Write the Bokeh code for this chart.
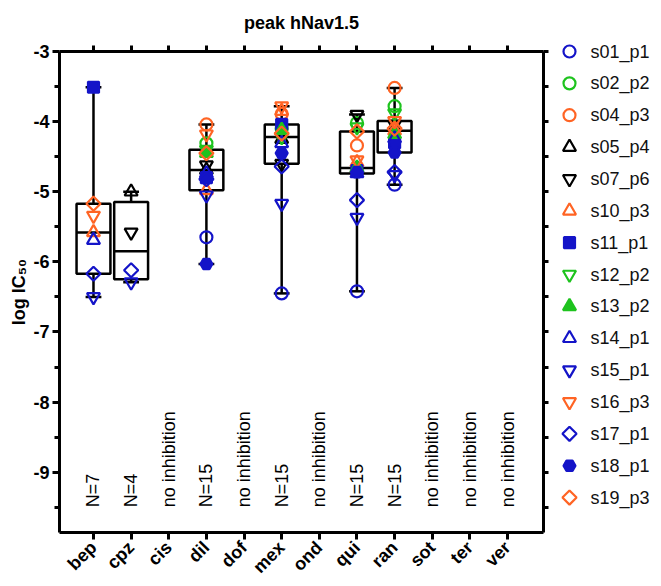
import numpy as np
from math import pi
from bokeh.plotting import figure
from bokeh.layouts import row
from bokeh.models import Range1d, FixedTicker, LinearAxis
from bokeh.core.properties import value
from bokeh.embed import file_html
from bokeh.resources import INLINE

nan = float("nan")

categories = ["bep", "cpz", "cis", "dil", "dof", "mex", "ond", "qui", "ran", "sot", "ter", "ver"]
n_labels = ["N=7", "N=4", "no inhibition", "N=15", "no inhibition", "N=15",
            "no inhibition", "N=15", "N=15", "no inhibition", "no inhibition", "no inhibition"]

#        bep    cpz    cis  dil    dof  mex    ond  qui    ran    sot  ter  ver
s01_p1 = [nan,   nan,   nan, -5.65, nan, -6.45, nan, -6.42, -4.90, nan, nan, nan]
s02_p2 = [nan,   nan,   nan, -4.31, nan, -4.10, nan, -4.02, -3.78, nan, nan, nan]
s04_p3 = [nan,   nan,   nan, -4.04, nan, -3.89, nan, -4.34, -3.52, nan, nan, nan]
s05_p4 = [nan,   -5.00, nan, -4.69, nan, -4.25, nan, -4.67, -4.06, nan, nan, nan]
s07_p6 = [nan,   -5.58, nan, -4.62, nan, -4.60, nan, -3.90, -4.04, nan, nan, nan]
s10_p3 = [-5.58, nan,   nan, -4.98, nan, -3.85, nan, -4.58, -4.13, nan, nan, nan]
s11_p1 = [-3.51, nan,   nan, -4.80, nan, -4.04, nan, -4.70, -4.30, nan, nan, nan]
s12_p2 = [nan,   nan,   nan, -4.40, nan, -4.22, nan, -4.08, -3.88, nan, nan, nan]
s13_p2 = [nan,   nan,   nan, -4.45, nan, -4.12, nan, -4.66, -4.18, nan, nan, nan]
s14_p1 = [-5.69, nan,   nan, -4.74, nan, -4.31, nan, -4.74, -4.24, nan, nan, nan]
s15_p1 = [-6.50, -6.29, nan, -5.05, nan, -5.17, nan, -5.37, -4.76, nan, nan, nan]
s16_p3 = [-5.34, nan,   nan, -4.18, nan, -3.78, nan, -4.55, -3.99, nan, nan, nan]
s17_p1 = [-6.17, -6.12, nan, -4.82, nan, -4.64, nan, -5.12, -4.72, nan, nan, nan]
s18_p1 = [nan,   nan,   nan, -6.03, nan, -4.45, nan, -4.72, -4.44, nan, nan, nan]
s19_p3 = [-5.17, nan,   nan, -4.45, nan, -4.17, nan, -4.14, -4.10, nan, nan, nan]

y_major = [-3, -4, -5, -6, -7, -8, -9]
y_minor = [-3.5, -4.5, -5.5, -6.5, -7.5, -8.5, -9.5]

BLUE = "#1414C8"
GREEN = "#1EC31E"
ORANGE = "#FF6424"
BLACK = "#000000"

# name, values, marker, color, filled, angle
series = [
    ("s01_p1", s01_p1, "circle", BLUE, False, 0),
    ("s02_p2", s02_p2, "circle", GREEN, False, 0),
    ("s04_p3", s04_p3, "circle", ORANGE, False, 0),
    ("s05_p4", s05_p4, "triangle", BLACK, False, 0),
    ("s07_p6", s07_p6, "inverted_triangle", BLACK, False, 0),
    ("s10_p3", s10_p3, "triangle", ORANGE, False, 0),
    ("s11_p1", s11_p1, "square", BLUE, True, 0),
    ("s12_p2", s12_p2, "inverted_triangle", GREEN, False, 0),
    ("s13_p2", s13_p2, "triangle", GREEN, True, 0),
    ("s14_p1", s14_p1, "triangle", BLUE, False, 0),
    ("s15_p1", s15_p1, "inverted_triangle", BLUE, False, 0),
    ("s16_p3", s16_p3, "inverted_triangle", ORANGE, False, 0),
    ("s17_p1", s17_p1, "square", BLUE, False, pi / 4),
    ("s18_p1", s18_p1, "hex", BLUE, True, 0),
    ("s19_p3", s19_p3, "square", ORANGE, False, pi / 4),
]

FONT = "Liberation Sans"
xpos = list(range(1, len(categories) + 1))
TOP, FH, BOTTOM = 51, 481, 52


def marker_size(marker, ang):
    if marker in ("triangle", "inverted_triangle"):
        return 13
    if marker == "square":
        return 10 if ang else 11
    return 12


p = figure(frame_width=484, frame_height=FH,
           x_range=Range1d(0.097, 12.956), y_range=Range1d(-9.86, -3.0),
           output_backend="svg", toolbar_location=None,
           min_border_left=59, min_border_top=TOP, min_border_bottom=BOTTOM, min_border_right=8,
           title="peak hNav1.5")
p.frame_align = False
p.grid.visible = False
p.outline_line_color = None
p.background_fill_color = "white"
p.border_fill_color = "white"

p.title.align = "center"
p.title.vertical_align = "top"
p.title.text_font = FONT
p.title.text_font_size = "18px"
p.title.text_font_style = "bold"
p.title.text_color = "black"
p.title.standoff = 21

# bottom x axis
xa = p.xaxis[0]
xa.ticker = FixedTicker(ticks=xpos, minor_ticks=[])
xa.major_label_overrides = {i: c for i, c in zip(xpos, categories)}
xa.major_label_orientation = pi / 4
xa.major_label_text_font = FONT
xa.major_label_text_font_size = "18px"
xa.major_label_text_font_style = "bold"
xa.major_label_text_color = "black"
xa.axis_line_width = 3
xa.major_tick_line_width = 3
xa.major_tick_out = 7
xa.major_tick_in = 0
xa.minor_tick_line_color = None
xa.major_label_standoff = 5

# left y axis
ya = p.yaxis[0]
ya.ticker = FixedTicker(ticks=y_major, minor_ticks=y_minor)
ya.major_label_overrides = {v: str(v) for v in y_major}
ya.major_label_text_font = FONT
ya.major_label_text_font_size = "18px"
ya.major_label_text_font_style = "bold"
ya.major_label_text_color = "black"
ya.axis_line_width = 3
ya.major_tick_line_width = 3
ya.minor_tick_line_width = 3
ya.major_tick_out = 7
ya.major_tick_in = 0
ya.minor_tick_out = 5
ya.minor_tick_in = 0
ya.major_label_standoff = 3
ya.axis_label = "log IC\u2085\u2080"
ya.axis_label_text_font = FONT
ya.axis_label_text_font_size = "18px"
ya.axis_label_text_font_style = "bold"
ya.axis_label_text_color = "black"
ya.axis_label_standoff = 1

# top axis (ticks only)
top = LinearAxis(ticker=FixedTicker(ticks=xpos, minor_ticks=[]),
                 major_label_text_font_size="0px", major_label_text_color=None,
                 axis_line_width=3, major_tick_line_width=3,
                 major_tick_out=6, major_tick_in=0, minor_tick_line_color=None,
                 major_label_standoff=0)
p.add_layout(top, "above")

# right axis (ticks only)
right = LinearAxis(ticker=FixedTicker(ticks=y_major + y_minor, minor_ticks=[]),
                   major_label_text_font_size="0px", major_label_text_color=None,
                   axis_line_width=3, major_tick_line_width=3,
                   major_tick_out=5, major_tick_in=0, minor_tick_line_color=None,
                   major_label_standoff=0)
p.add_layout(right, "right")

# box statistics from the data
bx, bmin, bq1, bmed, bq3, bmax = [], [], [], [], [], []
for i, x in enumerate(xpos):
    vals = np.array([s[1][i] for s in series], dtype=float)
    vals = vals[~np.isnan(vals)]
    if len(vals) == 0:
        continue
    q1, med, q3 = np.percentile(vals, [25, 50, 75], method="weibull")
    bx.append(x); bmin.append(vals.min()); bq1.append(q1)
    bmed.append(med); bq3.append(q3); bmax.append(vals.max())

bx = np.array(bx, dtype=float)
hw = 0.45
cw = 0.21
p.segment(bx, bq3, bx, bmax, line_color="black", line_width=2.5)
p.segment(bx, bq1, bx, bmin, line_color="black", line_width=2.5)
p.segment(bx - cw, bmax, bx + cw, bmax, line_color="black", line_width=2.5)
p.segment(bx - cw, bmin, bx + cw, bmin, line_color="black", line_width=2.5)
p.quad(left=bx - hw, right=bx + hw, bottom=bq1, top=bq3,
       fill_alpha=0, line_color="black", line_width=2.5)
p.segment(bx - hw, bmed, bx + hw, bmed, line_color="black", line_width=2.5)

for name, vals, marker, color, filled, ang in series:
    p.scatter(xpos, vals, marker=marker, size=marker_size(marker, ang), angle=ang,
              line_color=color, line_width=2.2,
              fill_color=color, fill_alpha=1.0 if filled else 0.0)

p.text(xpos, [-9.5] * len(xpos), text=n_labels, angle=pi / 2,
       text_align="left", text_baseline="middle",
       text_font=value(FONT), text_font_size="18px", text_color="black")

# legend panel: one row per series, rows indexed 0..14 from the top
ROW_PX = 31.86
PAD = 20
leg = figure(frame_width=105, frame_height=FH + PAD,
             x_range=Range1d(0, 105), y_range=Range1d(FH / ROW_PX, -PAD / ROW_PX),
             output_backend="svg", toolbar_location=None,
             min_border_left=0, min_border_right=0,
             min_border_top=TOP - PAD, min_border_bottom=BOTTOM,
             x_axis_location=None, y_axis_location=None)
leg.frame_align = False
leg.grid.visible = False
leg.outline_line_color = None
leg.background_fill_color = "white"
leg.border_fill_color = "white"
for k, (name, vals, marker, color, filled, ang) in enumerate(series):
    leg.scatter([18], [k], marker=marker, size=marker_size(marker, ang), angle=ang,
                line_color=color, line_width=2.2,
                fill_color=color, fill_alpha=1.0 if filled else 0.0)
names = [s[0] for s in series]
leg.text([39] * len(names), list(range(len(names))), text=names,
         text_align="left", text_baseline="middle",
         text_font=value(FONT), text_font_size="18px", text_color="#111111")

layout = row(p, leg)
open("out.html", "w").write(file_html(layout, INLINE))
